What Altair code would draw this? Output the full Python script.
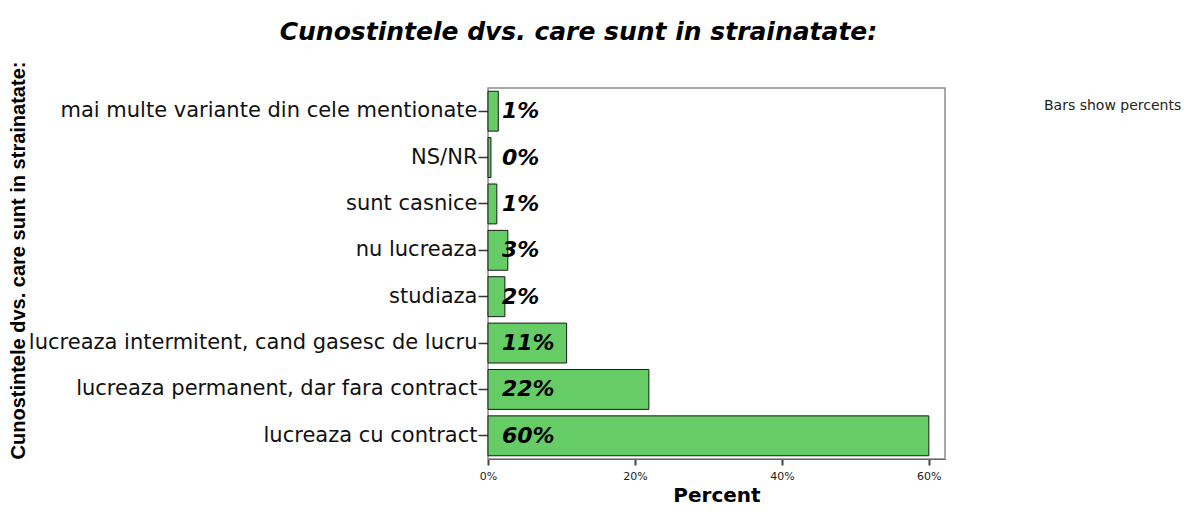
import altair as alt
import pandas as pd

categories = [
    "mai multe variante din cele mentionate",
    "NS/NR",
    "sunt casnice",
    "nu lucreaza",
    "studiaza",
    "lucreaza intermitent, cand gasesc de lucru",
    "lucreaza permanent, dar fara contract",
    "lucreaza cu contract",
]
percents = [1.4, 0.4, 1.2, 2.7, 2.3, 10.7, 21.9, 60.0]
bar_labels = ["1%", "0%", "1%", "3%", "2%", "11%", "22%", "60%"]
x_ticks = [0, 20, 40, 60]
note = ["Bars show percents"]

df = pd.DataFrame({"cat": categories, "pct": percents, "lab": bar_labels})
note_df = pd.DataFrame({"note": note})

y_enc = alt.Y(
    "cat:N",
    sort=categories,
    scale=alt.Scale(paddingInner=0.14, paddingOuter=0.07),
    axis=alt.Axis(
        title="Cunostintele dvs. care sunt in strainatate:",
        titleFont="Liberation Sans",
        titleFontSize=20,
        titleFontWeight="bold",
        titleColor="#000000",
        titleX=-460,
        titleY=172,
        labelFont="DejaVu Sans",
        labelFontSize=21,
        labelColor="#111111",
        labelPadding=1,
        labelLimit=600,
        tickSize=10,
        tickColor="#333333",
        tickWidth=1.5,
        domain=False,
    ),
)

x_enc = alt.X(
    "pct:Q",
    scale=alt.Scale(domain=[0, 62.2], nice=False, zero=True),
    axis=alt.Axis(
        title="Percent",
        titleFont="DejaVu Sans",
        titleFontSize=20,
        titleFontWeight="bold",
        titleColor="#000000",
        titlePadding=4,
        values=x_ticks,
        labelExpr="datum.value + '%'",
        labelFlush=False,
        labelFont="DejaVu Sans",
        labelFontSize=11,
        labelColor="#222222",
        labelPadding=5,
        tickSize=6,
        tickWidth=2,
        tickColor="#444444",
        domainColor="#666666",
        grid=False,
    ),
)

bars = alt.Chart(df).mark_bar(
    color="#66cc66", stroke="#1a1a1a", strokeWidth=1
).encode(x=x_enc, y=y_enc)

texts = alt.Chart(df).mark_text(
    align="left", baseline="middle", dx=14, font="DejaVu Sans",
    fontSize=22, fontWeight="bold", fontStyle="italic", color="#000000"
).encode(x=alt.datum(0), y=alt.Y("cat:N", sort=categories), text="lab:N")

note_layer = alt.Chart(note_df).mark_text(
    align="left", baseline="middle", font="DejaVu Sans", fontSize=14, color="#222222"
).encode(x=alt.value(556), y=alt.value(18), text="note:N")

chart = alt.layer(bars, texts, note_layer).properties(
    width=457,
    height=371,
    autosize=alt.AutoSizeParams(type="none"),
    padding={"left": 480, "top": 80, "right": 246, "bottom": 48},
    title=alt.TitleParams(
        "Cunostintele dvs. care sunt in strainatate:",
        font="DejaVu Sans", fontSize=25, fontWeight="bold", fontStyle="italic",
        color="#000000", anchor="middle", dx=-138, offset=16,
    ),
).configure_view(stroke="#8c8c8c", strokeWidth=1.5)

chart.save("out.html", embed_options={"renderer": "svg", "actions": False})
